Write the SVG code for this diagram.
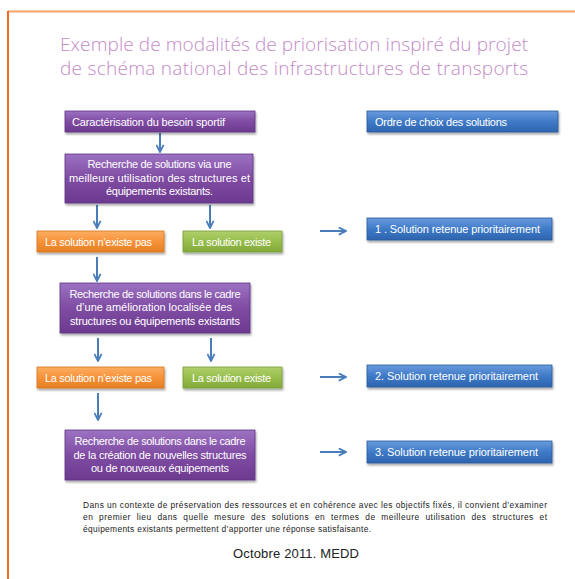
<svg xmlns="http://www.w3.org/2000/svg" width="575" height="579" viewBox="0 0 575 579">
<defs>
<linearGradient id="gPurple" x1="0" y1="0" x2="0" y2="1">
<stop offset="0" stop-color="#9C72C2"/><stop offset="0.5" stop-color="#7F4CA3"/><stop offset="1" stop-color="#6C3A8F"/>
</linearGradient>
<linearGradient id="gBlue" x1="0" y1="0" x2="0" y2="1">
<stop offset="0" stop-color="#6A9BDD"/><stop offset="0.5" stop-color="#3F7AC7"/><stop offset="1" stop-color="#2E64AE"/>
</linearGradient>
<linearGradient id="gOrange" x1="0" y1="0" x2="0" y2="1">
<stop offset="0" stop-color="#FBAE62"/><stop offset="0.5" stop-color="#F7923A"/><stop offset="1" stop-color="#E57F22"/>
</linearGradient>
<linearGradient id="gGreen" x1="0" y1="0" x2="0" y2="1">
<stop offset="0" stop-color="#B1CF6C"/><stop offset="0.5" stop-color="#97BE4C"/><stop offset="1" stop-color="#83A93A"/>
</linearGradient>
<filter id="sh" x="-10%" y="-20%" width="120%" height="160%">
<feDropShadow dx="1" dy="2" stdDeviation="1.2" flood-color="#000" flood-opacity="0.35"/>
</filter>
<marker id="ah" viewBox="0 0 10 10" refX="9" refY="5" markerWidth="9" markerHeight="9" markerUnits="userSpaceOnUse" orient="auto">
<path d="M1,1 L9,5 L1,9" fill="none" stroke="#4A7EBB" stroke-width="2"/>
</marker>
<style>
.box{filter:url(#sh);stroke-width:0.8}
.p{fill:url(#gPurple);stroke:#5E3483}
.b{fill:url(#gBlue);stroke:#2A5A9C}
.o{fill:url(#gOrange);stroke:#D7761E}
.g{fill:url(#gGreen);stroke:#779B35}
.t{font-family:"Liberation Sans",Arial,sans-serif;font-size:11px;fill:#FFFFFF}
.c{text-anchor:middle}
.arr{stroke:#4A7EBB;stroke-width:2;fill:none;marker-end:url(#ah)}
.para{font-family:"Liberation Sans",Arial,sans-serif;font-size:8.4px;fill:#222222}
.title{font-family:"Open Sans","Liberation Sans",sans-serif;font-weight:300;font-size:19px;fill:#C48AC8;text-anchor:middle}
</style>
</defs>
<rect x="0" y="0" width="575" height="579" fill="#FFFFFF"/>
<line x1="8" y1="11.5" x2="575" y2="11.5" stroke="#F6A26A" stroke-width="2"/>
<line x1="8" y1="11" x2="8" y2="579" stroke="#F26B1D" stroke-width="2"/>

<text class="title" x="294" y="51" textLength="468">Exemple de modalités de priorisation inspiré du projet</text>
<text class="title" x="294" y="75" textLength="468">de schéma national des infrastructures de transports</text>

<g id="connectors">
<path class="arr" d="M160,133 V152"/>
<path class="arr" d="M97,205 V228"/>
<path class="arr" d="M210,205 V228"/>
<path class="arr" d="M97,257 V281"/>
<path class="arr" d="M98,338 V361"/>
<path class="arr" d="M211,338 V361"/>
<path class="arr" d="M98,393 V420"/>
<path class="arr" d="M320,231 H346"/>
<path class="arr" d="M320,377 H346"/>
<path class="arr" d="M320,452 H346"/>
</g>

<g id="besoin">
<rect class="box p" x="65" y="111" width="190" height="21"/>
<text class="t" x="72" y="126" textLength="153">Caractérisation du besoin sportif</text>
</g>
<g id="ordre">
<rect class="box b" x="367" y="111" width="191" height="21"/>
<text class="t" x="375" y="126" textLength="132">Ordre de choix des solutions</text>
</g>
<g id="recherche1">
<rect class="box p" x="65" y="154" width="188" height="49"/>
<text class="t c" x="159.5" y="168" textLength="144">Recherche de solutions via une</text>
<text class="t c" x="159.5" y="181.5" textLength="181">meilleure utilisation des structures et</text>
<text class="t c" x="159.5" y="195" textLength="107">équipements existants.</text>
</g>
<g id="nexiste1">
<rect class="box o" x="37" y="231" width="127" height="21"/>
<text class="t c" x="98.5" y="246" textLength="107">La solution n’existe pas</text>
</g>
<g id="existe1">
<rect class="box g" x="183" y="231" width="99" height="21"/>
<text class="t c" x="231.5" y="246" textLength="79">La solution existe</text>
</g>
<g id="solution1">
<rect class="box b" x="367" y="218" width="185" height="22"/>
<text class="t" x="375" y="233" textLength="165">1 . Solution retenue prioritairement</text>
</g>
<g id="recherche2">
<rect class="box p" x="60" y="283" width="190" height="50"/>
<text class="t c" x="155" y="297.5" textLength="171">Recherche de solutions dans le cadre</text>
<text class="t c" x="154" y="311" textLength="156">d’une amélioration localisée des</text>
<text class="t c" x="155" y="324.5" textLength="170">structures ou équipements existants</text>
</g>
<g id="nexiste2">
<rect class="box o" x="37" y="367" width="127" height="21"/>
<text class="t c" x="98.5" y="382" textLength="107">La solution n’existe pas</text>
</g>
<g id="existe2">
<rect class="box g" x="183" y="367" width="99" height="21"/>
<text class="t c" x="231.5" y="382" textLength="79">La solution existe</text>
</g>
<g id="solution2">
<rect class="box b" x="367" y="365" width="185" height="22"/>
<text class="t" x="375" y="380" textLength="163">2. Solution retenue prioritairement</text>
</g>
<g id="recherche3">
<rect class="box p" x="65" y="430" width="190" height="50"/>
<text class="t c" x="160" y="444.5" textLength="171">Recherche de solutions dans le cadre</text>
<text class="t c" x="160" y="458.5" textLength="173">de la création de nouvelles structures</text>
<text class="t c" x="160" y="472" textLength="138">ou de nouveaux équipements</text>
</g>
<g id="solution3">
<rect class="box b" x="367" y="441" width="185" height="22"/>
<text class="t" x="375" y="456" textLength="163">3. Solution retenue prioritairement</text>
</g>

<text class="para" x="83" y="508" textLength="464">Dans un contexte de préservation des ressources et en cohérence avec les objectifs fixés, il convient d’examiner</text>
<text class="para" x="83" y="520" textLength="464" word-spacing="3">en premier lieu dans quelle mesure des solutions en termes de meilleure utilisation des structures et</text>
<text class="para" x="83" y="532" textLength="288">équipements  existants permettent d’apporter une réponse satisfaisante.</text>
<text x="296" y="558" text-anchor="middle" font-family="Liberation Sans, Arial, sans-serif" font-size="13" fill="#222222" textLength="126">Octobre 2011. MEDD</text>
</svg>
